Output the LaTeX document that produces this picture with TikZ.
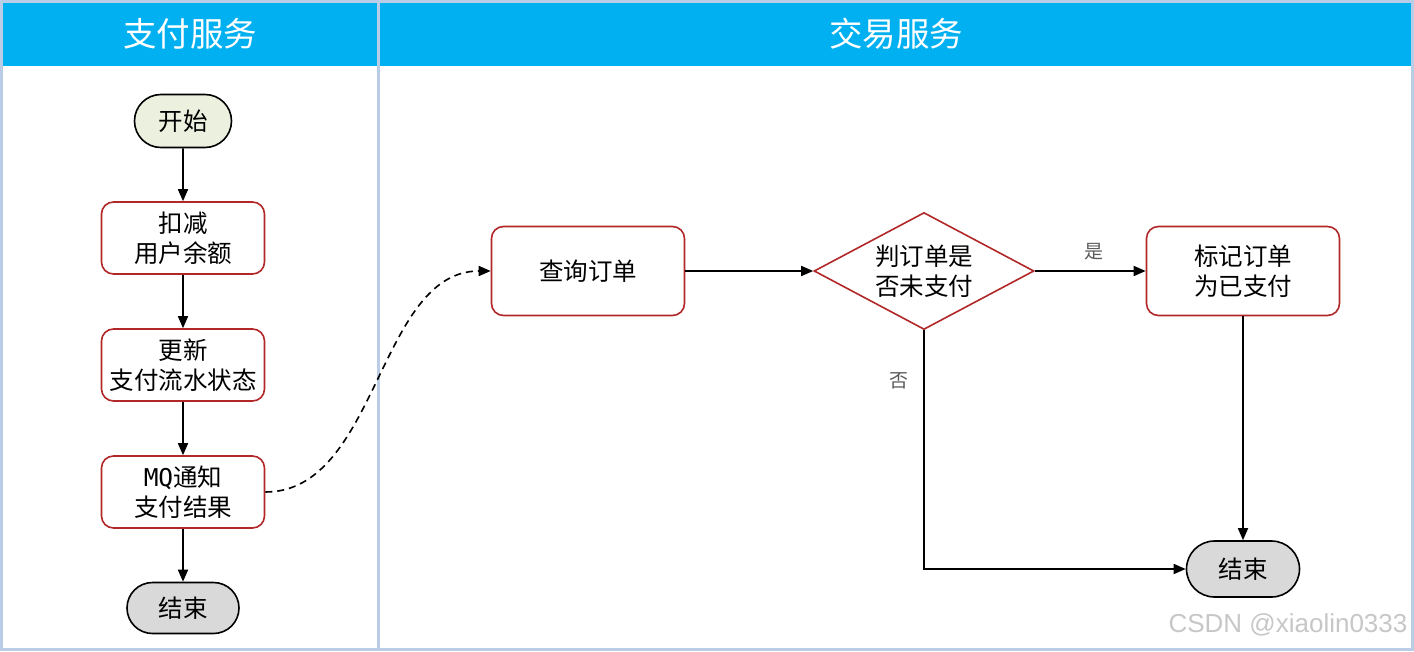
\documentclass[tikz,border=0pt]{standalone}
\usepackage{fontspec}
\setmainfont{Noto Sans CJK SC}
\newfontfamily\monofnt{DejaVu Sans Mono}
\newfontfamily\wmfont{Liberation Sans}
\usetikzlibrary{arrows.meta,shapes.geometric,shapes.misc}
\definecolor{hdrblue}{RGB}{0,176,240}
\definecolor{framebl}{RGB}{186,205,230}
\definecolor{boxred}{RGB}{178,40,40}
\definecolor{startfill}{RGB}{236,240,222}
\definecolor{endfill}{RGB}{217,217,217}
\definecolor{lblgray}{RGB}{90,90,90}
\begin{document}
\begin{tikzpicture}[x=1pt,y=-1pt,
  txt/.style={font=\fontsize{24.5}{30}\selectfont, align=center, inner sep=0pt},
  procbox/.style={txt, draw=boxred, line width=1.6pt, rounded corners=12pt, fill=white},
  termbox/.style={txt, rounded rectangle, draw=black, line width=1.6pt},
  decbox/.style={diamond, draw=boxred, line width=1.6pt, inner sep=0pt, minimum width=220pt, minimum height=117pt, fill=white},
  flow/.style={line width=1.6pt, -{Triangle[length=12pt,width=10pt]}},
  lbl/.style={font=\fontsize{19}{22}\selectfont, text=lblgray, inner sep=0pt},
  hdrtxt/.style={font=\fontsize{33.5}{36}\selectfont, text=white, inner sep=0pt}
]
\useasboundingbox (0,0) rectangle (1414,651);
% lanes
\fill[white] (0,0) rectangle (1414,651);
\fill[hdrblue] (2,2) rectangle (1412,66);
\draw[framebl, line width=3pt] (1.5,1.5) rectangle (1412.5,649.5);
\draw[framebl, line width=3pt] (378,0) -- (378,651);
\node[hdrtxt] (h1) at (190,34) {支付服务};
\node[hdrtxt] (h2) at (896,34) {交易服务};
% left lane
\node[termbox, fill=startfill, minimum width=97pt, minimum height=53pt] (start) at (183,121) {开始};
\node[procbox, minimum width=163pt, minimum height=72pt] (n1) at (183,238) {扣减\\用户余额};
\node[procbox, minimum width=163pt, minimum height=72pt] (n2) at (183,365) {更新\\支付流水状态};
\node[procbox, minimum width=163pt, minimum height=72pt] (n3) at (183,492) {{\monofnt MQ}通知\\支付结果};
\node[termbox, fill=endfill, minimum width=112pt, minimum height=51pt] (endL) at (183,608) {结束};
% right lane
\node[procbox, minimum width=193pt, minimum height=89pt] (q) at (588,271) {查询订单};
\node[decbox] (d) at (924,271) {};
\node[txt] (dtext) at (d.center) {判订单是\\否未支付};
\node[procbox, minimum width=193pt, minimum height=89pt] (m) at (1243,271) {标记订单\\为已支付};
\node[termbox, fill=endfill, minimum width=113pt, minimum height=56pt] (endR) at (1243,569) {结束};
% edges
\draw[flow] (start) -- (n1);
\draw[flow] (n1) -- (n2);
\draw[flow] (n2) -- (n3);
\draw[flow] (n3) -- (endL);
\draw[flow, dashed, dash pattern=on 7pt off 5pt] (n3.east) .. controls (378,492) and (378,271) .. (q.west);
\draw[flow] (q) -- (d);
\draw[flow] (d.east) -- (m.west);
\draw[flow] (m) -- (endR);
\draw[flow] (d.south) |- (endR.west);
\node[lbl] (yes) at (1094,252) {是};
\node[lbl] (no) at (899,381) {否};
% watermark
\node[font=\wmfont\fontsize{26}{28}\selectfont, text=black!22, inner sep=0pt] (wm) at (1288,625) {CSDN @xiaolin0333};
\end{tikzpicture}
\end{document}
